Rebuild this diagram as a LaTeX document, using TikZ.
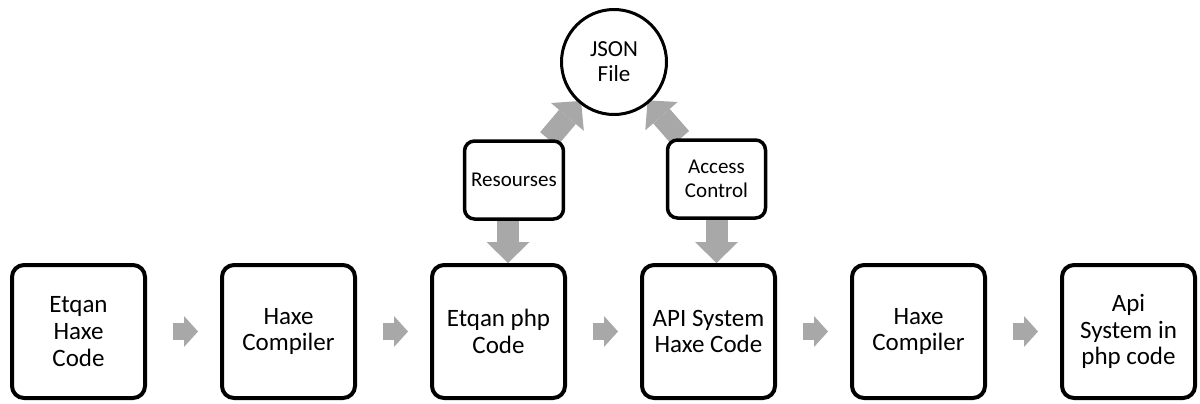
\documentclass[tikz,border=0pt]{standalone}
\usepackage{fontspec}
\setmainfont{Carlito}
\usetikzlibrary{positioning}
\usetikzlibrary{arrows.meta}
\usetikzlibrary{backgrounds}

\definecolor{flowgray}{RGB}{168,168,168}

\begin{document}
\begin{tikzpicture}[
    x=0.5pt, y=-0.5pt,       % one unit is one pixel, y downwards
    node distance=105pt,     % spacing of the main boxes
    ]
% -------------------------------------------------
\tikzset{
  base/.style={draw, fill=white, align=center},
  proc/.style={base, rectangle, on grid, rounded corners=6pt, line width=2pt, minimum width=66.5pt, minimum height=66.5pt, font=\fontsize{12.5}{13.3}\selectfont},
  note/.style={base, rectangle, rounded corners=5pt, line width=1.75pt, minimum width=49pt, minimum height=39pt, font=\fontsize{10.5}{12}\selectfont},
  circ/.style={base, circle, line width=1.5pt, minimum size=52.5pt, inner sep=0pt, font=\fontsize{11.5}{12.5}\selectfont},
  hop/.style={draw=flowgray, line width=8.5pt, -{Triangle[width=15.5pt, length=7pt, line width=0pt]}, shorten <=12.8pt, shorten >=11pt},
  feed/.style={draw=flowgray, line width=11pt, -{Triangle[width=21.5pt, length=10.5pt, line width=0pt]}}
}
\useasboundingbox (0,0) rectangle (1200,403);
\node [proc] at (78.5,331.5) (src) {Etqan\\Haxe\\Code};
\node [proc, right=of src] (cmpa) {Haxe\\Compiler};
\node [proc, right=of cmpa] (php) {Etqan php\\Code};
\node [proc, right=of php] (api) {API System\\Haxe Code};
\node [proc, right=of api] (cmpb) {Haxe\\Compiler};
\node [proc, right=of cmpb] (out) {Api\\System in\\php code};
\node [note] at (514,180) (res) {Resourses};
\node [note] at (716.5,179) (acc) {Access\\Control};
\node [circ] at (614,62) (json) {JSON\\File};
\begin{scope}[on background layer]
\path [hop] (src) -- (cmpa);
\path [hop] (cmpa) -- (php);
\path [hop] (php) -- (api);
\path [hop] (api) -- (cmpb);
\path [hop] (cmpb) -- (out);
\path [feed] ([xshift=-3pt]res.south) -- ([xshift=-3pt]res.south |- php.north);
\path [feed] (acc.south) -- (acc.south |- api.north);
\path [feed, shorten >=-1.5pt] (res) -- (json);
\path [feed, shorten >=-1.5pt] (acc) -- (json);
\end{scope}
\end{tikzpicture}
\end{document}
